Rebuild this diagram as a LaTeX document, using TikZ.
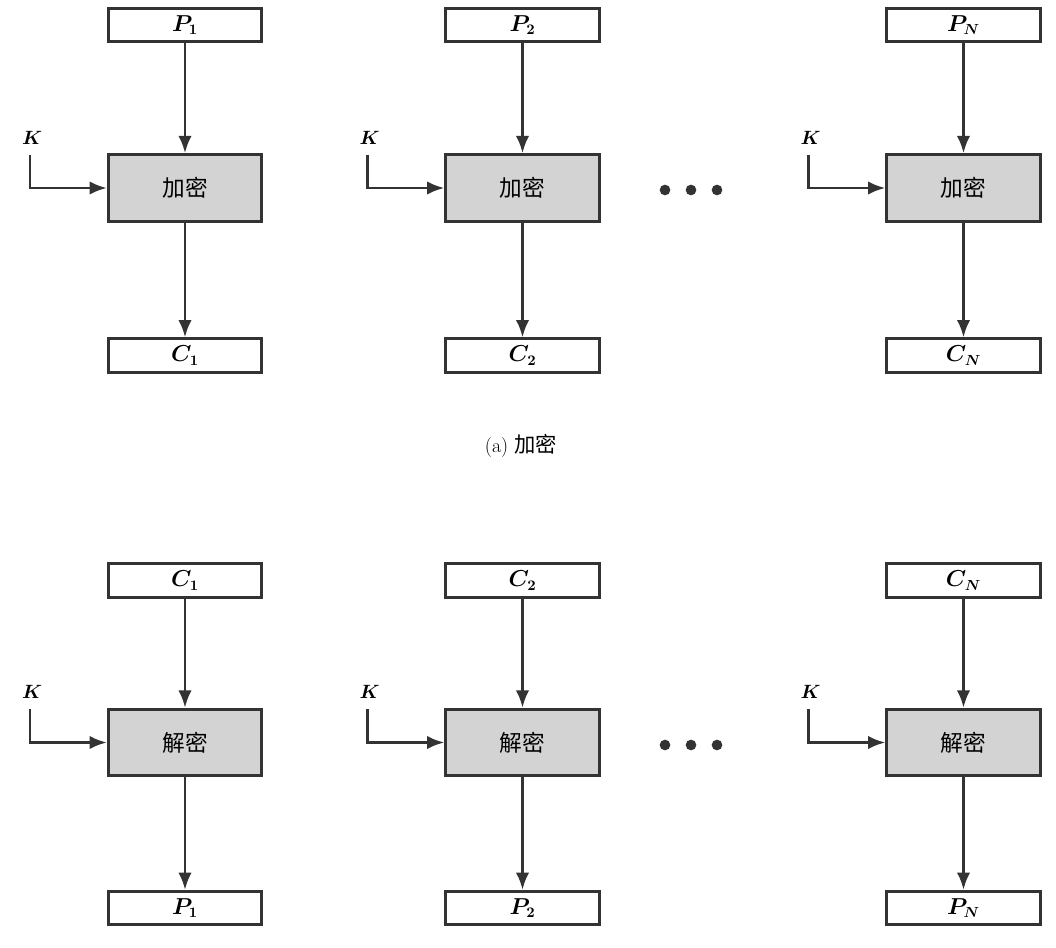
\documentclass[tikz,border=0pt]{standalone}
\usepackage{fontspec}
\usepackage{bm}
\newfontfamily\cjk{Noto Sans CJK SC}
\usetikzlibrary{arrows.meta}
\definecolor{ink}{HTML}{333333}
\definecolor{boxfill}{HTML}{D3D3D3}
\begin{document}
\begin{tikzpicture}[x=0.75pt,y=-0.75pt,
  inkline/.style={draw=ink, line width=2.1pt},
  databox/.style={inkline, fill=white, minimum width=115pt, minimum height=25pt,
    inner sep=0pt, font=\fontsize{16}{16}\selectfont},
  cipherbox/.style={inkline, fill=boxfill, minimum width=115pt, minimum height=50pt,
    inner sep=0pt, font=\fontsize{17}{17}\selectfont\cjk},
  flow/.style={inkline, -{Latex[length=13pt,width=10pt]}},
  keylabel/.style={font=\fontsize{15}{15}\selectfont, inner sep=0pt, anchor=south},
  dot/.style={circle, fill=ink, inner sep=0pt, minimum size=8pt}
]
\fill[white] (0,0) rectangle (1056,948);
\useasboundingbox (0,0) rectangle (1056,948);

% (a) encryption row
\foreach \n/\x/\s in {1/185/1, 2/522.5/2, 3/963.5/N} {
  \node[databox] (pt\n) at (\x,25) {$\bm{P_{\s}}$};
  \node[cipherbox] (enc\n) at (\x,188) {加密};
  \node[databox] (ct\n) at (\x,355.5) {$\bm{C_{\s}}$};
  \coordinate (ek\n) at ({\x-155},155);
  \node[keylabel] (ekl\n) at ({\x-153},145) {$\bm{K}$};
  \draw[flow] (pt\n) -- (enc\n);
  \draw[flow] (enc\n) -- (ct\n);
  \draw[flow] (ek\n) |- (enc\n.west);
}
\foreach \d/\x in {1/665, 2/691, 3/717}
  \node[dot] (edot\d) at (\x,190) {};
\node[font=\fontsize{15}{15}\selectfont] (capa) at (521,446) {(a) {\cjk\fontsize{16}{16}\selectfont 加密}};

% decryption row
\foreach \n/\x/\s in {1/185/1, 2/522.5/2, 3/963.5/N} {
  \node[databox] (ci\n) at (\x,580.5) {$\bm{C_{\s}}$};
  \node[cipherbox] (dec\n) at (\x,742.5) {解密};
  \node[databox] (po\n) at (\x,908) {$\bm{P_{\s}}$};
  \coordinate (dk\n) at ({\x-155},709);
  \node[keylabel] (dkl\n) at ({\x-153},699) {$\bm{K}$};
  \draw[flow] (ci\n) -- (dec\n);
  \draw[flow] (dec\n) -- (po\n);
  \draw[flow] (dk\n) |- (dec\n.west);
}
\foreach \d/\x in {1/665, 2/691, 3/717}
  \node[dot] (ddot\d) at (\x,745) {};
\end{tikzpicture}
\end{document}
